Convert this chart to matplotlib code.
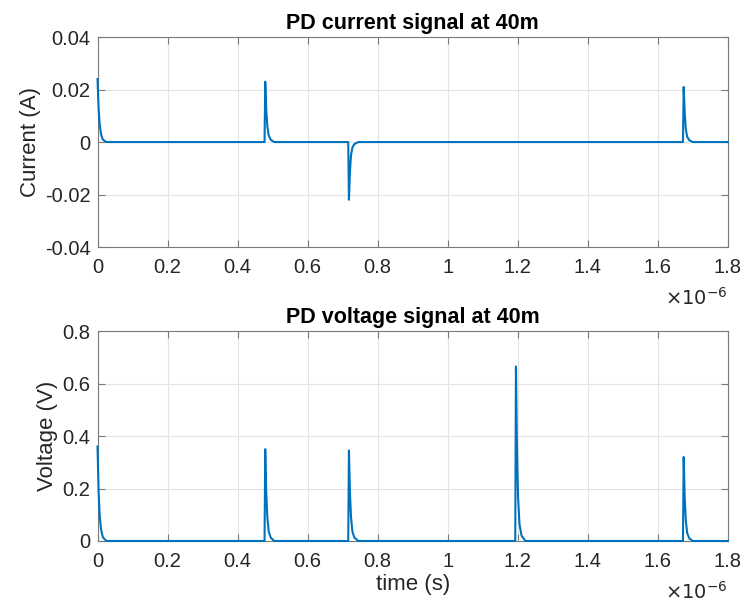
import matplotlib.pyplot as plt
from matplotlib.ticker import FuncFormatter
import numpy as np

plt.rcParams['font.family'] = ['Liberation Sans', 'DejaVu Sans']

# current trace, time in microseconds
cur_t_us = [0, 0.003, 0.006, 0.010, 0.015, 0.025,
            0.477, 0.479, 0.482, 0.485, 0.489, 0.495, 0.505,
            0.716, 0.718, 0.721, 0.724, 0.728, 0.734, 0.745,
            1.672, 1.674, 1.677, 1.680, 1.684, 1.690, 1.700, 1.8]
cur_a = [0.024, 0.013, 0.007, 0.003, 0.001, 0.0,
         0.0, 0.023, 0.012, 0.006, 0.0025, 0.0008, 0.0,
         0.0, -0.022, -0.011, -0.005, -0.002, -0.0007, 0.0,
         0.0, 0.021, 0.011, 0.005, 0.002, 0.0007, 0.0, 0.0]

# voltage trace, time in microseconds
volt_t_us = [0, 0.003, 0.006, 0.010, 0.015, 0.025,
             0.477, 0.479, 0.482, 0.485, 0.489, 0.495, 0.505,
             0.716, 0.718, 0.721, 0.724, 0.728, 0.734, 0.745,
             1.193, 1.195, 1.198, 1.201, 1.205, 1.211, 1.222,
             1.672, 1.674, 1.677, 1.680, 1.684, 1.690, 1.700, 1.8]
volt_v = [0.36, 0.19, 0.10, 0.045, 0.015, 0.0,
          0.0, 0.35, 0.18, 0.09, 0.035, 0.012, 0.0,
          0.0, 0.345, 0.18, 0.09, 0.035, 0.012, 0.0,
          0.0, 0.665, 0.34, 0.17, 0.065, 0.02, 0.0,
          0.0, 0.32, 0.165, 0.08, 0.03, 0.01, 0.0, 0.0]

blue = '#0072BD'
txtcol = '#262626'
spcol = '#7a7a7a'

fig = plt.figure(figsize=(7.45, 6.05), dpi=100)
ax1 = fig.add_axes([0.1309, 0.5917, 0.846, 0.347])
ax2 = fig.add_axes([0.1309, 0.1058, 0.846, 0.347])

xt = np.arange(0, 1.81, 0.2) * 1e-6
xfmt = FuncFormatter(lambda v, p: '%g' % round(v * 1e6, 6))
yfmt = FuncFormatter(lambda v, p: '%g' % round(v, 6))

panels = [
    (ax1, cur_t_us, cur_a, (-0.04, 0.04), np.arange(-0.04, 0.041, 0.02),
     'Current (A)', 'PD current signal at 40m'),
    (ax2, volt_t_us, volt_v, (0, 0.8), np.arange(0, 0.81, 0.2),
     'Voltage (V)', 'PD voltage signal at 40m'),
]

for ax, t_us, y, ylim, yt, ylab, title in panels:
    t = np.array(t_us) * 1e-6
    ax.plot(t, y, color=blue, lw=1.5, clip_on=False, zorder=3)
    ax.set_xlim(0, 1.8e-6)
    ax.set_ylim(*ylim)
    ax.set_xticks(xt)
    ax.set_yticks(yt)
    ax.xaxis.set_major_formatter(xfmt)
    ax.yaxis.set_major_formatter(yfmt)
    ax.grid(True, color='#e3e3e3', lw=0.8)
    ax.set_axisbelow(True)
    ax.tick_params(direction='in', top=True, right=True, length=5,
                   color=spcol, labelsize=14.5, labelcolor=txtcol)
    ax.tick_params(axis='x', pad=8)
    ax.tick_params(axis='y', pad=5)
    for s in ax.spines.values():
        s.set_color(spcol)
        s.set_linewidth(0.8)
    ax.set_ylabel(ylab, fontsize=16, color=txtcol, labelpad=3)
    ax.set_title(title, fontsize=15.5, fontweight='bold', pad=6)
    ax.text(1.0, -0.243, r'$\times10^{-6}$', transform=ax.transAxes,
            fontsize=14, color=txtcol, ha='right', va='center')

ax2.set_xlabel('time (s)', fontsize=16, color=txtcol, labelpad=2)

fig.savefig('out.png', dpi=100)
